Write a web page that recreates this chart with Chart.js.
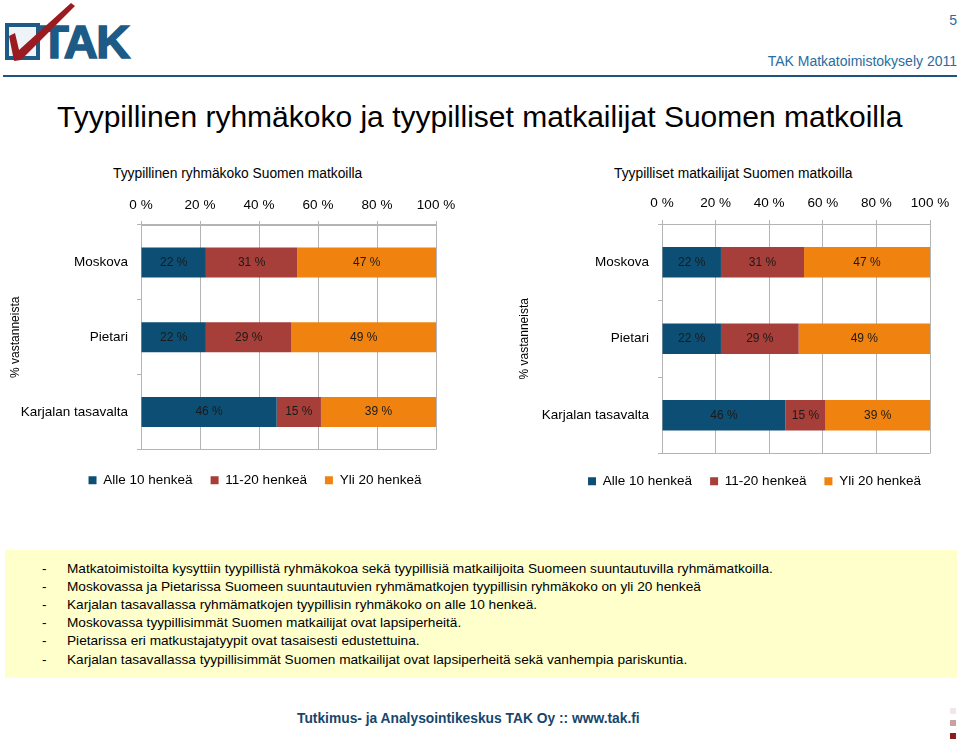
<!DOCTYPE html>
<html lang="fi">
<head>
<meta charset="utf-8">
<title>Tyypillinen ryhmäkoko ja tyypilliset matkailijat Suomen matkoilla</title>
<script src="https://cdn.jsdelivr.net/npm/chart.js@4.4.1/dist/chart.umd.min.js"></script>
<style>
html, body { margin: 0; padding: 0; }
body {
    width: 960px; height: 742px; overflow: hidden; position: relative;
    background: #fff; color: #000;
    font-family: "Liberation Sans", Arial, sans-serif;
}
.abs { position: absolute; white-space: nowrap; line-height: 1; }
canvas { position: absolute; }
#pageNo { right: 3px; top: 13px; font-size: 14px; color: #2a6ca0; }
#survey { right: 3px; top: 54px; font-size: 14px; color: #2a6ca0; }
#rule { position: absolute; left: 3px; top: 75px; width: 954px; height: 2px; background: #1f5480; }
#mainTitle { left: 57px; top: 102px; font-size: 30px; }
.chartTitle { top: 167px; font-size: 13.8px; }
#notes { position: absolute; left: 5px; top: 550px; width: 952px; height: 128px; background: #ffffcc; }
#notes div { position: absolute; left: 0; font-size: 13.65px; line-height: 1; white-space: nowrap; }
#notes span.dash { position: absolute; left: 37px; }
#notes span.txt { position: absolute; left: 62px; }
#footer { left: 297px; top: 712px; font-size: 13.8px; font-weight: bold; color: #17466b; }
.sq { position: absolute; left: 950px; width: 6px; height: 6px; }
</style>
</head>
<body>

<svg class="abs" style="left:0;top:0" width="150" height="70">
    <rect x="7" y="25" width="31" height="33" fill="#eef3f7" stroke="#1d5a86" stroke-width="4"/>
    <text x="40" y="58" font-family="Liberation Sans, Arial, sans-serif" font-weight="bold" font-size="47" letter-spacing="-1.5" fill="#1d5a86" stroke="#1d5a86" stroke-width="1.6">TAK</text>
    <path d="M9 36 L15 33 L19 50 L71 3 L75 6 L21 60 L14 61 Z" fill="#9b1c20"/>
</svg>
<div class="abs" id="pageNo">5</div>
<div class="abs" id="survey">TAK Matkatoimistokysely 2011</div>
<div id="rule"></div>

<div class="abs" id="mainTitle">Tyypillinen ryhmäkoko ja tyypilliset matkailijat Suomen matkoilla</div>

<div class="abs chartTitle" style="left:113px">Tyypillinen ryhmäkoko Suomen matkoilla</div>
<div class="abs chartTitle" style="left:614px">Tyypilliset matkailijat Suomen matkoilla</div>

<canvas id="sizeChart" width="510" height="314" style="left:0;top:188px"></canvas>
<canvas id="travChart" width="485" height="315" style="left:512px;top:188px"></canvas>

<div id="notes"></div>

<div class="abs" id="footer">Tutkimus- ja Analysointikeskus TAK Oy :: www.tak.fi</div>
<div class="sq" style="top:708px;background:#f1e6e8"></div>
<div class="sq" style="top:720px;background:#c9a0a3"></div>
<div class="sq" style="top:733px;background:#8a1d22"></div>

<script>
const categories = ["Moskova", "Pietari", "Karjalan tasavalta"];
const seriesLabels = ["Alle 10 henkeä", "11-20 henkeä", "Yli 20 henkeä"];
const seriesColors = ["#0d4f74", "#a63f39", "#f0830f"];
const xTickValues = [0, 20, 40, 60, 80, 100];

// Tyypillinen ryhmäkoko (% vastanneista)
const sizeAlle10 = [22, 22, 46];
const size11to20 = [31, 29, 15];
const sizeYli20 = [47, 49, 39];

// Tyypilliset matkailijat (% vastanneista)
const travAlle10 = [22, 22, 46];
const trav11to20 = [31, 29, 15];
const travYli20 = [47, 49, 39];

const notes = [
    "Matkatoimistoilta kysyttiin tyypillistä ryhmäkokoa sekä tyypillisiä matkailijoita Suomeen suuntautuvilla ryhmämatkoilla.",
    "Moskovassa ja Pietarissa Suomeen suuntautuvien ryhmämatkojen tyypillisin ryhmäkoko on yli 20 henkeä",
    "Karjalan tasavallassa ryhmämatkojen tyypillisin ryhmäkoko on alle 10 henkeä.",
    "Moskovassa tyypillisimmät Suomen matkailijat ovat lapsiperheitä.",
    "Pietarissa eri matkustajatyypit ovat tasaisesti edustettuina.",
    "Karjalan tasavallassa tyypillisimmät Suomen matkailijat ovat lapsiperheitä sekä vanhempia pariskuntia."
];

const notesBox = document.getElementById("notes");
notes.forEach((line, i) => {
    notesBox.innerHTML += `<div style="top:${12 + i * 18.1}px"><span class="dash">-</span><span class="txt">${line}</span></div>`;
});

Chart.defaults.font.family = '"Liberation Sans", Arial, sans-serif';
Chart.defaults.color = "#000";

const gridGrey = "#b4b4b4";

// values written in the middle of every bar piece
const barLabels = {
    id: "barLabels",
    afterDatasetsDraw(chart) {
        const ctx = chart.ctx;
        ctx.save();
        ctx.font = '12px "Liberation Sans", Arial, sans-serif';
        ctx.fillStyle = "#1a1a1a";
        ctx.textAlign = "center";
        ctx.textBaseline = "middle";
        chart.data.datasets.forEach((ds, i) => {
            chart.getDatasetMeta(i).data.forEach((bar, j) => {
                const p = bar.getCenterPoint();
                ctx.fillText(ds.data[j] + " %", p.x, p.y);
            });
        });
        ctx.restore();
    }
};

function makeChart(id, values, o) {
    return new Chart(document.getElementById(id), {
        type: "bar",
        data: {
            labels: categories,
            datasets: values.map((v, i) => ({
                label: seriesLabels[i],
                data: v,
                backgroundColor: seriesColors[i],
                borderWidth: 0,
                barPercentage: 0.5,
                categoryPercentage: 0.8
            }))
        },
        options: {
            indexAxis: "y",
            responsive: false,
            animation: false,
            events: [],
            layout: { padding: { left: 0, right: 0, top: 0, bottom: 5 } },
            scales: {
                x: {
                    position: "top",
                    stacked: true,
                    min: 0,
                    max: 100,
                    afterBuildTicks: s => { s.ticks = xTickValues.map(v => ({ value: v })); },
                    ticks: { callback: v => v + " %", padding: o.tickPad, color: "#000", font: { size: 13.5 } },
                    grid: { color: gridGrey, tickLength: 4 },
                    border: { color: gridGrey },
                    afterFit: s => { s.height = o.axisHeight; s.paddingRight = o.rightGap; }
                },
                y: {
                    stacked: true,
                    title: {
                        display: true,
                        text: "% vastanneista",
                        color: "#000",
                        font: { size: 12 },
                        padding: { top: o.titlePad, bottom: 0 }
                    },
                    ticks: { color: "#000", padding: 9, font: { size: 13.5 } },
                    grid: {
                        offset: true,
                        tickLength: 4,
                        tickColor: gridGrey,
                        color: c => (c.index === 0 || c.index === undefined) ? gridGrey : "rgba(0,0,0,0)"
                    },
                    border: { color: gridGrey },
                    afterFit: s => { s.width = o.axisWidth; }
                }
            },
            plugins: {
                legend: {
                    position: "bottom",
                    title: { display: true, text: "", font: { size: o.legendGap }, padding: 0 },
                    labels: { boxWidth: 8, boxHeight: 8, padding: 18, color: "#000", font: { size: 13.5 } }
                },
                tooltip: { enabled: false }
            }
        },
        plugins: [barLabels]
    });
}

makeChart("sizeChart", [sizeAlle10, size11to20, sizeYli20],
    { axisHeight: 37, tickPad: 8, rightGap: 74, axisWidth: 141, titlePad: 8, legendGap: 5 });

makeChart("travChart", [travAlle10, trav11to20, travYli20],
    { axisHeight: 36, tickPad: 9, rightGap: 67, axisWidth: 150, titlePad: 5, legendGap: 2.5 });
</script>
</body>
</html>
